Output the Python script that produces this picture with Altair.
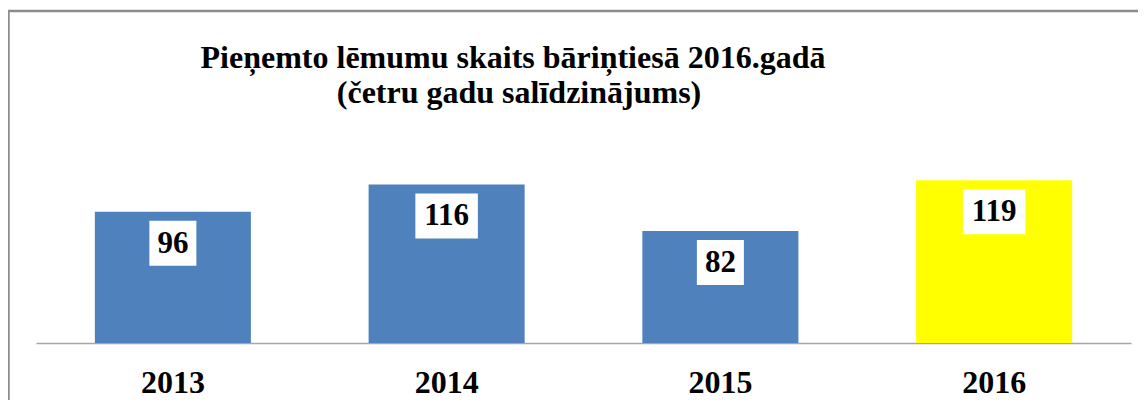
import altair as alt
import pandas as pd

years = ["2013", "2014", "2015", "2016"]
counts = [96, 116, 82, 119]
title_lines = ["Pie\u0146emto l\u0113mumu skaits b\u0101ri\u0146ties\u0101 2016.gad\u0101",
               "(\u010detru gadu sal\u012bdzin\u0101jums)"]
bar_colors = ["#4f81bd", "#4f81bd", "#4f81bd", "#ffff00"]

df = pd.DataFrame({"year": years, "count": counts})

FONT = "Liberation Serif"

x = alt.X(
    "year:N",
    sort=years,
    scale=alt.Scale(paddingInner=0.43, paddingOuter=0.215),
    axis=alt.Axis(
        title=None, labelAngle=0, ticks=False, tickSize=0, labelPadding=49,
        labelBaseline="alphabetic", labelFont=FONT, labelFontSize=32,
        labelFontWeight="bold", labelColor="black",
        domainColor="#a6a6a6", domainWidth=1.5,
    ),
)
y = alt.Y("count:Q", scale=alt.Scale(domain=[0, 240]), axis=None)

bars = alt.Chart(df).mark_bar().encode(
    x=x, y=y,
    color=alt.Color("year:N", scale=alt.Scale(domain=years, range=bar_colors), legend=None),
)

boxes = alt.Chart(df).transform_calculate(
    boxw="length(toString(datum.count))*15.5+16"
).mark_bar(color="white", yOffset=9, y2Offset=54).encode(
    x=x, y=y, y2=alt.Y2("count"), size=alt.Size("boxw:Q", scale=None),
)

labels = alt.Chart(df).mark_text(
    dy=41, baseline="alphabetic", font=FONT, fontSize=31, fontWeight="bold", color="black"
).encode(x=x, y=y, text="count:Q")

one = pd.DataFrame({"a": [0]})
border_top = alt.Chart(one).mark_rule(color="#8c8c8c", strokeWidth=2.5).encode(
    x=alt.value(-29), x2=alt.value(1102), y=alt.value(-4)
)
border_left = alt.Chart(one).mark_rule(color="#8c8c8c", strokeWidth=2.5).encode(
    x=alt.value(-27.5), y=alt.value(-5), y2=alt.value(385)
)

title_style = dict(font=FONT, fontSize=32, fontWeight="bold", color="black",
                   align="center", baseline="alphabetic")
title1 = alt.Chart(one).transform_calculate(t=f"'{title_lines[0]}'").mark_text(**title_style).encode(
    x=alt.value(477), y=alt.value(53), text="t:N"
)
title2 = alt.Chart(one).transform_calculate(t=f"'{title_lines[1]}'").mark_text(**title_style).encode(
    x=alt.value(483), y=alt.value(88), text="t:N"
)

chart = alt.layer(border_top, border_left, bars, boxes, labels, title1, title2).properties(
    width=1095, height=328,
    padding={"left": 28, "top": 7, "right": 7, "bottom": 57},
    autosize=alt.AutoSizeParams(type="none"),
).configure_view(stroke=None)

chart.save("out.html", embed_options={"renderer": "svg", "actions": False})
